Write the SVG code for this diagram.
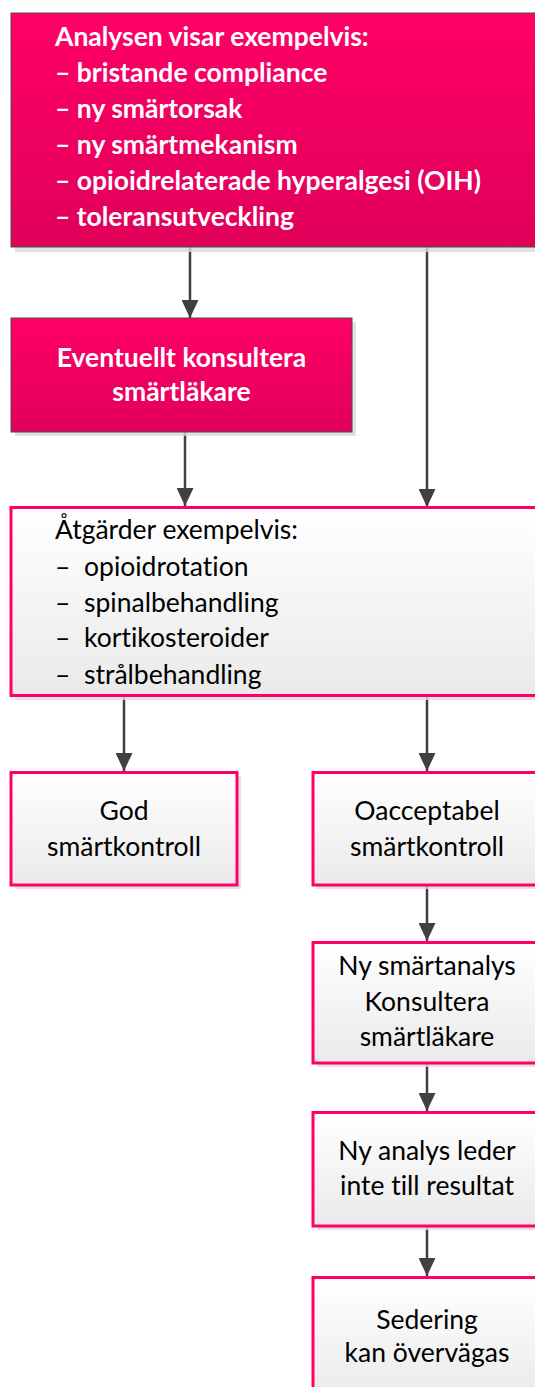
<svg xmlns="http://www.w3.org/2000/svg" width="535" height="1387" viewBox="0 0 535 1387">
<style>
.pink{fill:url(#gPink);stroke:#4d4d4d;stroke-width:1}
.wbox{fill:url(#gWhite);stroke:#FF0066;stroke-width:3}
.shadow{fill:#d9d9d9;opacity:0.8}
.bt{font-family:Lato,"Liberation Sans",sans-serif;font-weight:bold;font-size:26.5px;fill:#ffffff;font-variant-ligatures:none}
.nt{font-family:Lato,"Liberation Sans",sans-serif;font-size:26.5px;fill:#000000;font-variant-ligatures:none}
.c{text-anchor:middle}
.conn{stroke:#404040;stroke-width:2.5;fill:none;marker-end:url(#arr)}
</style>
<defs>
<linearGradient id="gPink" x1="0" y1="0" x2="0" y2="1">
<stop offset="0" stop-color="#FF0066"/>
<stop offset="1" stop-color="#E0005A"/>
</linearGradient>
<linearGradient id="gWhite" x1="0" y1="0" x2="0" y2="1">
<stop offset="0" stop-color="#FFFFFF"/>
<stop offset="1" stop-color="#EAEAEA"/>
</linearGradient>
<marker id="arr" viewBox="0 0 18 17" markerWidth="18" markerHeight="17" refX="18" refY="8.5" orient="auto" markerUnits="userSpaceOnUse">
<path d="M0,0 L18,8.5 L0,17 z" fill="#404040"/>
</marker>
</defs>
<rect width="535" height="1387" fill="#ffffff"/>
<g id="connectors">
<line class="conn" x1="190" y1="247" x2="190" y2="318"/>
<line class="conn" x1="427" y1="247" x2="427" y2="507"/>
<line class="conn" x1="185" y1="432" x2="185" y2="506"/>
<line class="conn" x1="124" y1="697" x2="124" y2="771"/>
<line class="conn" x1="427" y1="697" x2="427" y2="771"/>
<line class="conn" x1="427" y1="886" x2="427" y2="941"/>
<line class="conn" x1="427" y1="1064" x2="427" y2="1111"/>
<line class="conn" x1="427" y1="1227" x2="427" y2="1276"/>
</g>
<g id="n1">
<rect class="shadow" x="15" y="17" width="530" height="235"/>
<rect class="pink" x="11" y="13" width="530" height="234"/>
<text class="bt" x="55" y="46">Analysen visar exempelvis:</text>
<text class="bt" x="55" y="82">– bristande compliance</text>
<text class="bt" x="55" y="118">– ny smärtorsak</text>
<text class="bt" x="55" y="154">– ny smärtmekanism</text>
<text class="bt" x="55" y="190">– opioidrelaterade hyperalgesi (OIH)</text>
<text class="bt" x="55" y="226">– toleransutveckling</text>
</g>
<g id="n2">
<rect class="shadow" x="15" y="322" width="341" height="114"/>
<rect class="pink" x="11" y="318" width="341" height="114"/>
<text class="bt c" x="181.5" y="367">Eventuellt konsultera</text>
<text class="bt c" x="181.5" y="401">smärtläkare</text>
</g>
<g id="n3">
<rect class="shadow" x="15" y="511" width="530" height="189"/>
<rect class="wbox" x="11" y="507.5" width="530" height="188"/>
<text class="nt" x="55" y="539">Åtgärder exempelvis:</text>
<text class="nt" x="55" y="576">–</text><text class="nt" x="84" y="576">opioidrotation</text>
<text class="nt" x="55" y="612">–</text><text class="nt" x="84" y="612">spinalbehandling</text>
<text class="nt" x="55" y="647">–</text><text class="nt" x="84" y="647">kortikosteroider</text>
<text class="nt" x="55" y="684">–</text><text class="nt" x="84" y="684">strålbehandling</text>
</g>
<g id="n4">
<rect class="shadow" x="15" y="776" width="226" height="113"/>
<rect class="wbox" x="11" y="772.5" width="226" height="112.5"/>
<text class="nt c" x="124" y="820">God</text>
<text class="nt c" x="124" y="856">smärtkontroll</text>
</g>
<g id="n5">
<rect class="shadow" x="317" y="776" width="226" height="113"/>
<rect class="wbox" x="313" y="772.5" width="226" height="112.5"/>
<text class="nt c" x="427" y="820">Oacceptabel</text>
<text class="nt c" x="427" y="856">smärtkontroll</text>
</g>
<g id="n6">
<rect class="shadow" x="317" y="946" width="226" height="121"/>
<rect class="wbox" x="313" y="942.5" width="226" height="120.5"/>
<text class="nt c" x="427" y="975">Ny smärtanalys</text>
<text class="nt c" x="427" y="1011">Konsultera</text>
<text class="nt c" x="427" y="1046">smärtläkare</text>
</g>
<g id="n7">
<rect class="shadow" x="317" y="1116" width="226" height="114"/>
<rect class="wbox" x="313" y="1112.5" width="226" height="113.5"/>
<text class="nt c" x="427" y="1160">Ny analys leder</text>
<text class="nt c" x="427" y="1195">inte till resultat</text>
</g>
<g id="n8">
<rect class="shadow" x="317" y="1281" width="226" height="120"/>
<rect class="wbox" x="313" y="1277.5" width="226" height="120"/>
<text class="nt c" x="427" y="1329">Sedering</text>
<text class="nt c" x="427" y="1362">kan övervägas</text>
</g>
</svg>
